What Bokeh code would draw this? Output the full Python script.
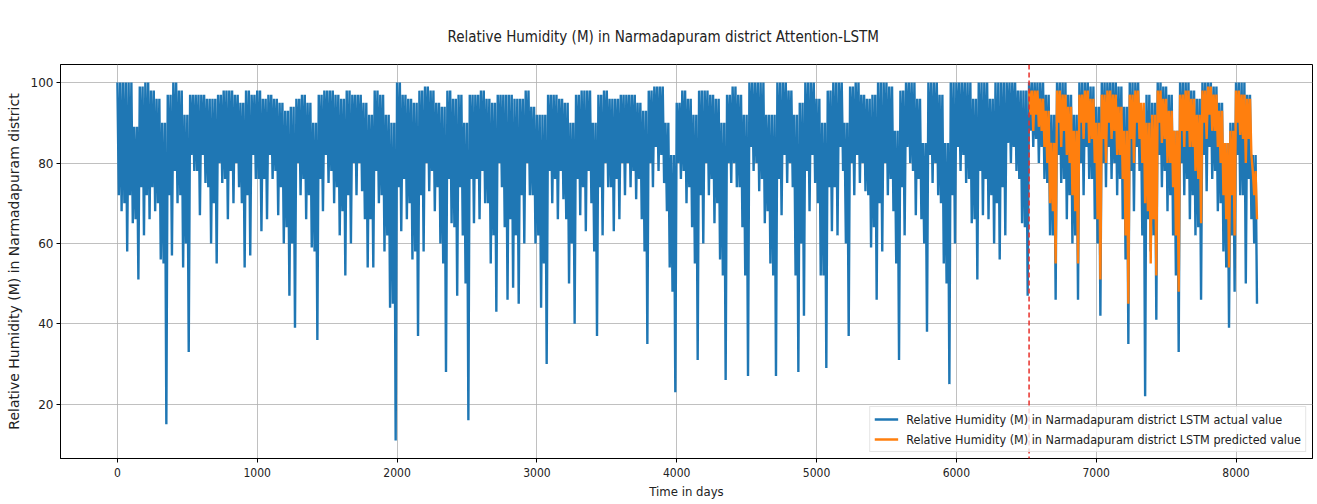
from bokeh.plotting import figure
from bokeh.models import Span, Legend, LegendItem, ColumnDataSource, Range1d, FixedTicker
from bokeh.embed import file_html
from bokeh.resources import INLINE

# ---------------- data ----------------
# The series is very dense (one value per day); it is recorded here per block
# of CHUNK_DAYS days as: the top of the band, the bottom of the solid band,
# and the lowest spike read in that block.
CHUNK_DAYS = 40
split_day = 6520          # first day of the predicted (test) part

actual_high = [
    100, 100, 100, 89, 99, 100, 98, 96, 90, 97,
    100, 98, 92, 97, 97, 97, 96, 96, 97, 98,
    98, 97, 95, 98, 97, 98, 96, 97, 96, 95,
    93, 94, 96, 97, 95, 90, 97, 98, 98, 97,
    96, 98, 97, 97, 95, 92, 98, 97, 92, 90,
    100, 97, 96, 95, 98, 99, 98, 95, 94, 98,
    96, 97, 90, 97, 97, 98, 96, 95, 97, 97,
    97, 96, 96, 98, 94, 92, 92, 97, 97, 96,
    95, 90, 97, 98, 98, 90, 97, 98, 96, 96,
    97, 97, 97, 95, 93, 98, 99, 99, 90, 82,
    95, 98, 96, 92, 98, 98, 97, 96, 90, 97,
    99, 97, 92, 100, 100, 100, 92, 92, 100, 100,
    98, 92, 95, 100, 100, 96, 90, 98, 100, 100,
    90, 99, 100, 97, 96, 97, 100, 100, 99, 88,
    98, 100, 100, 96, 85, 100, 100, 97, 85, 100,
    100, 100, 100, 96, 100, 100, 96, 100, 100, 100,
    100, 98, 98,
    100, 100, 100, 97, 92, 100, 100, 97, 92, 100,
    100, 99, 94, 100, 100, 100, 99, 94, 100, 100,
    92, 97, 95, 100, 99, 97, 88, 100, 100, 98,
    96, 100, 100, 99, 95, 85, 90, 100, 100, 97,
    82,
]
actual_band = [
    72, 70, 72, 66, 74, 72, 74, 70, 55, 72,
    78, 72, 60, 82, 78, 82, 74, 70, 80, 76,
    78, 80, 70, 72, 82, 76, 76, 82, 78, 74,
    64, 60, 80, 76, 72, 58, 76, 82, 78, 74,
    68, 72, 80, 80, 66, 66, 78, 72, 62, 45,
    74, 76, 70, 58, 72, 80, 78, 74, 55, 76,
    64, 74, 50, 76, 76, 78, 70, 62, 80, 64,
    66, 62, 72, 80, 72, 62, 55, 78, 76, 78,
    66, 60, 76, 74, 78, 58, 74, 80, 74, 76,
    80, 80, 78, 76, 58, 80, 84, 82, 68, 48,
    80, 78, 74, 55, 72, 80, 76, 70, 52, 80,
    80, 74, 52, 84, 80, 76, 68, 52, 76, 82,
    80, 52, 60, 78, 82, 70, 52, 74, 74, 84,
    60, 80, 82, 80, 72, 64, 70, 80, 76, 55,
    74, 84, 78, 76, 60, 82, 80, 70, 50, 72,
    84, 82, 76, 66, 78, 76, 72, 70, 74, 85,
    84, 76, 64,
    88, 86, 84, 75, 62, 82, 76, 72, 62, 80,
    84, 76, 60, 80, 84, 80, 76, 56, 78, 84,
    62, 66, 62, 82, 78, 72, 52, 80, 76, 72,
    64, 82, 84, 78, 70, 54, 62, 82, 72, 76,
    60,
]
actual_low = [
    68, 58, 65, 51, 62, 66, 68, 56, 15, 57,
    70, 54, 33, 78, 67, 75, 60, 55, 75, 66,
    70, 74, 54, 57, 76, 63, 66, 76, 67, 60,
    47, 39, 72, 66, 59, 36, 68, 75, 70, 62,
    52, 60, 72, 73, 54, 54, 70, 58, 44, 11,
    63, 66, 56, 37, 58, 73, 68, 60, 28, 65,
    47, 62, 16, 65, 66, 70, 55, 43, 74, 46,
    49, 45, 60, 72, 60, 44, 30, 70, 66, 71,
    50, 40, 67, 63, 70, 37, 62, 74, 63, 66,
    72, 74, 71, 66, 35, 74, 78, 75, 54, 23,
    76, 70, 64, 31, 60, 72, 65, 56, 26, 75,
    74, 64, 27, 78, 73, 65, 55, 27, 67, 75,
    74, 28, 42, 68, 75, 52, 29, 63, 62, 78,
    37, 72, 75, 73, 59, 46, 58, 72, 68, 31,
    62, 80, 67, 66, 38, 75, 72, 55, 25, 60,
    78, 75, 65, 51, 67, 66, 60, 56, 62, 80,
    78, 65, 47,
    84, 80, 76, 62, 46, 75, 66, 60, 46, 72,
    76, 66, 42, 74, 76, 72, 66, 35, 68, 78,
    22, 58, 41, 74, 68, 62, 33, 72, 66, 62,
    46, 73, 76, 68, 58, 39, 48, 72, 50, 66,
    45,
]
pred_high = [
    98, 98, 96, 93, 85, 98, 97, 94, 88, 97,
    98, 96, 90, 97, 98, 97, 94, 88, 97, 98,
    95, 90, 92, 98, 96, 93, 88, 97, 98, 96,
    92, 98, 99, 97, 93, 85, 88, 98, 97, 96,
    78,
]
pred_band = [
    92, 92, 88, 80, 68, 90, 88, 80, 68, 90,
    90, 86, 66, 86, 90, 88, 82, 62, 86, 90,
    80, 68, 66, 90, 86, 80, 62, 88, 88, 84,
    76, 90, 92, 88, 80, 66, 72, 90, 86, 86,
    72,
]
pred_low = [
    88, 89, 84, 70, 55, 84, 82, 72, 55, 86,
    85, 80, 51, 80, 86, 82, 76, 45, 80, 86,
    70, 55, 52, 85, 80, 74, 48, 84, 84, 78,
    65, 86, 88, 84, 72, 54, 62, 87, 80, 82,
    66,
]

x_ticks = [0, 1000, 2000, 3000, 4000, 5000, 6000, 7000, 8000]
y_ticks = [20, 40, 60, 80, 100]

title_text = "Relative Humidity (M) in Narmadapuram district Attention-LSTM"
x_label = "Time in days"
y_label = "Relative Humidity (M) in Narmadapuram district"
actual_label = "Relative Humidity (M) in Narmadapuram district LSTM actual value"
pred_label = "Relative Humidity (M) in Narmadapuram district LSTM predicted value"


def blocks_to_line(highs, bands, lows, start):
    """Each block is drawn as top -> band bottom -> top -> lowest spike."""
    xs, ys = [], []
    q = CHUNK_DAYS / 4
    for i, (h, b, l) in enumerate(zip(highs, bands, lows)):
        x0 = start + i * CHUNK_DAYS
        xs += [x0, x0 + q, x0 + 2 * q, x0 + 3 * q]
        ys += [h, b, h, l]
    return xs, ys


ax, ay = blocks_to_line(actual_high, actual_band, actual_low, 0)
px, py = blocks_to_line(pred_high, pred_band, pred_low, split_day)
src_a = ColumnDataSource(dict(x=ax, y=ay))
src_p = ColumnDataSource(dict(x=px, y=py))

COND = "DejaVu Sans Condensed"

p = figure(width=1317, height=504, output_backend="svg", toolbar_location=None,
           x_range=Range1d(-407, 8547), y_range=Range1d(6.5, 104.5),
           min_border_left=60, min_border_right=5, min_border_top=64,
           min_border_bottom=46)
p.background_fill_color = "white"
p.border_fill_color = "white"
p.outline_line_color = "black"
p.outline_line_width = 1

p.title.text = title_text
p.title.text_font = COND
p.title.text_font_size = "15px"
p.title.text_font_style = "normal"
p.title.text_color = "#222222"
p.title.align = "left"
p.title.offset = 387
p.title.standoff = 37

r_a = p.line("x", "y", source=src_a, line_color="#1f77b4", line_width=2.4,
             line_join="miter")
r_p = p.line("x", "y", source=src_p, line_color="#ff7f0e", line_width=2.4,
             line_join="miter")

p.add_layout(Span(location=split_day, dimension="height", line_color="#e8302a",
                  line_dash="5 3", line_width=1.5))

p.xaxis.ticker = FixedTicker(ticks=x_ticks)
p.yaxis.ticker = FixedTicker(ticks=y_ticks)
p.xaxis.axis_label = x_label
p.yaxis.axis_label = y_label
for ax_ in (p.xaxis[0], p.yaxis[0]):
    ax_.axis_line_color = "black"
    ax_.major_tick_line_color = "black"
    ax_.major_tick_out = 4
    ax_.major_tick_in = 0
    ax_.minor_tick_line_color = None
    ax_.major_label_text_color = "#222222"
    ax_.major_label_text_font_size = "12px"
    ax_.axis_label_text_font_style = "normal"
    ax_.axis_label_text_color = "#222222"
p.xaxis.major_label_text_font = COND
p.xaxis.axis_label_text_font = COND
p.xaxis.axis_label_text_font_size = "13px"
p.xaxis.major_label_standoff = 5
p.xaxis.axis_label_standoff = 4
p.yaxis.major_label_text_font = "DejaVu Sans"
p.yaxis.axis_label_text_font = "DejaVu Sans"
p.yaxis.axis_label_text_font_size = "14px"
p.yaxis.major_label_standoff = 3
p.yaxis.axis_label_standoff = 6

p.grid.grid_line_color = "#b0b0b0"
p.grid.grid_line_width = 0.8

legend = Legend(items=[LegendItem(label=actual_label, renderers=[r_a]),
                       LegendItem(label=pred_label, renderers=[r_p])],
                location="bottom_right")
legend.label_text_font = COND
legend.label_text_font_size = "12.5px"
legend.label_text_color = "#222222"
legend.glyph_width = 24
legend.glyph_height = 16
legend.label_standoff = 8
legend.label_height = 16
legend.spacing = 4
legend.padding = 4
legend.margin = 6
legend.border_line_color = "#cccccc"
legend.background_fill_alpha = 0.8
p.add_layout(legend)

open("out.html", "w").write(file_html(p, INLINE))
